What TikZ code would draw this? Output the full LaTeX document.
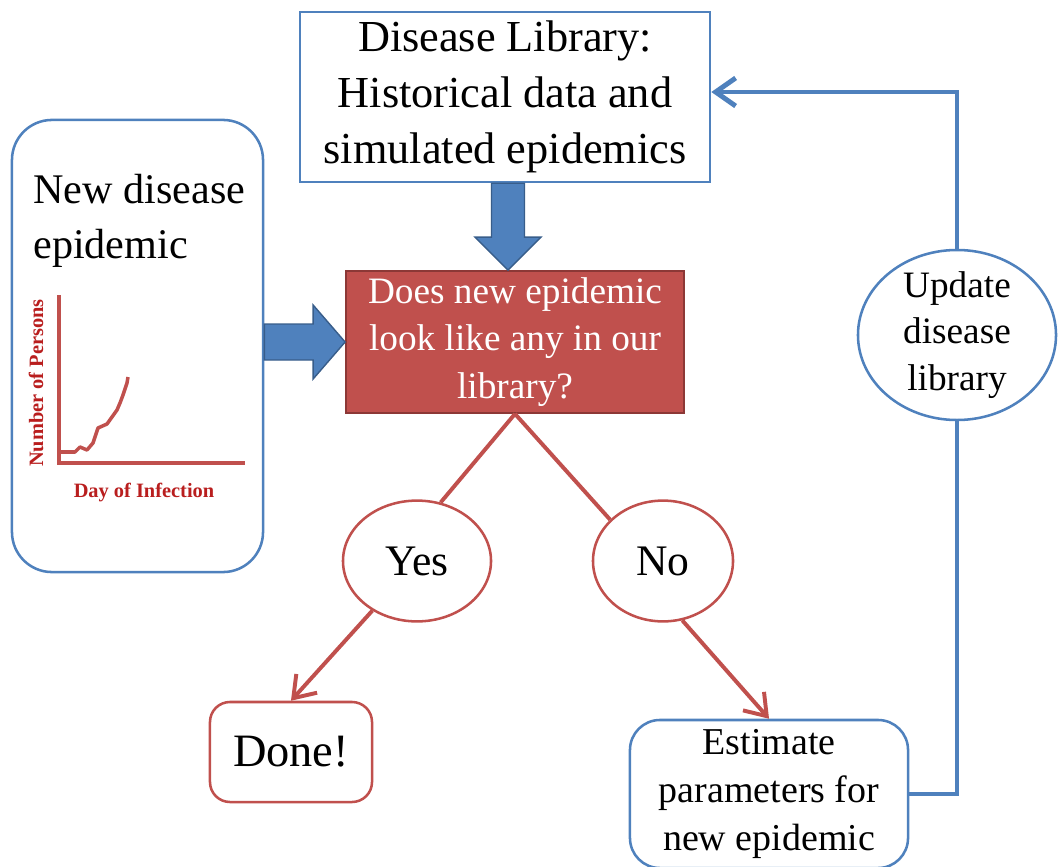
\documentclass[tikz,border=0pt]{standalone}
\usepackage{fontspec}
\setmainfont{Liberation Serif}
\usetikzlibrary{arrows.meta,calc,positioning,shapes.geometric}
\definecolor{boxblue}{RGB}{79,129,189}
\definecolor{darkblue}{RGB}{56,93,138}
\definecolor{boxred}{RGB}{192,80,77}
\definecolor{darkred}{RGB}{140,56,54}
\definecolor{labelred}{RGB}{185,30,30}

\begin{document}
\begin{tikzpicture}[x=0.025cm,y=-0.025cm,
    bluebox/.style={draw=boxblue, line width=1.8pt, fill=white, align=center, inner sep=0pt},
    redbox/.style={draw=boxred, line width=1.8pt, fill=white, align=center, inner sep=0pt},
    answer/.style={ellipse, draw=boxred, line width=1.8pt, fill=white, inner sep=0pt, minimum height=3.02cm, font=\fontsize{31}{38}\selectfont},
    redline/.style={boxred, line width=2.8pt},
    blueline/.style={boxblue, line width=3.5pt},
    tip/.style={-{Straight Barb[length=0.5cm, width=0.7cm]}},
    blockarrow/.style={fill=boxblue, draw=darkblue, line width=1pt, line join=miter}]

  \useasboundingbox (0,0) rectangle (1058,867);

  % Disease library box at the top
  \node[bluebox, minimum width=10.25cm, minimum height=4.25cm, font=\fontsize{31.5}{40}\selectfont] (lib) at (505,97) {Disease Library:\\Historical data and\\simulated epidemics};

  % New disease box with its small plot
  \node[bluebox, rounded corners=1cm, minimum width=6.275cm, minimum height=11.3cm] (newdis) at (137.5,346) {};
  \node[anchor=north west, inner sep=0pt, align=left, font=\fontsize{30}{39}\selectfont] (newtxt) at (33,174) {New disease\\epidemic};
  \draw[boxred, line width=3.5pt] (59,295) -- (59,463) -- (245,463);
  \draw[boxred, line width=2.5pt, line join=round] (59,452) -- (75,452) -- (80,447) -- (87,450) -- (93,443) -- (98,428) -- (107,424) -- (112,417) -- (117,410) -- (120,403) -- (123,395) -- (127,383) -- (128,377);
  \node[rotate=90, text=labelred, font=\bfseries\fontsize{14.5}{16}\selectfont] (ylab) at (36,383) {Number of Persons};
  \node[text=labelred, font=\bfseries\fontsize{14.5}{16}\selectfont] (xlab) at (144,493) {Day of Infection};

  % Question box
  \node[fill=boxred, draw=darkred, line width=1.2pt, minimum width=8.45cm, minimum height=3.55cm, text=white, align=center, inner sep=0pt, font=\fontsize{26.5}{34}\selectfont] (q) at (515,342) {Does new epidemic\\look like any in our\\library?};

  % Yes and No
  \node[answer, minimum width=3.7cm] (yes) at (417,561) {Yes};
  \node[answer, minimum width=3.5cm] (no) at (663,561) {No};

  % Outcomes
  \node[redbox, rounded corners=0.5cm, minimum width=4.05cm, minimum height=2.5cm, font=\fontsize{33}{40}\selectfont] (done) at (291,752) {Done!};
  \node[bluebox, rounded corners=0.75cm, minimum width=6.95cm, minimum height=3.7cm, font=\fontsize{27}{34}\selectfont] (est) at (769,794) {Estimate\\parameters for\\new epidemic};

  % Update ellipse on the right
  \node[ellipse, draw=boxblue, line width=1.8pt, fill=white, minimum width=4.95cm, minimum height=4.25cm, align=center, inner xsep=0pt, inner ysep=-0.35cm, font=\fontsize{26.5}{33}\selectfont] (update) at (957,335) {Update\\disease\\library};

  % Red connectors
  \draw[redline] (q.south) -- (yes.68);
  \draw[redline] (q.south) -- (no.142);
  \draw[redline, tip] (yes.228) -- (done.north);
  \draw[redline, tip] (no.288) -- (est.north);

  % Blue feedback loop
  \draw[blueline] (est.east) -| (update.south);
  \draw[blueline, tip] (update.north) |- ($(lib.east)+(0,-5)$);

  % Block arrows
  \coordinate (ltail) at (newdis.east |- q.west);
  \coordinate (ltip) at (q.west);
  \draw[blockarrow] ($(ltail)+(0,-18)$) -- ($(ltip)+(-32,-18)$) -- ($(ltip)+(-32,-37)$) -- (ltip) -- ($(ltip)+(-32,37)$) -- ($(ltip)+(-32,18)$) -- ($(ltail)+(0,18)$) -- cycle;
  \coordinate (dtail) at ($(lib.south)+(3,0)$);
  \coordinate (dtip) at (dtail |- q.north);
  \draw[blockarrow] ($(dtail)+(-16.5,0)$) -- ($(dtip)+(-16.5,-33)$) -- ($(dtip)+(-33,-33)$) -- (dtip) -- ($(dtip)+(33,-33)$) -- ($(dtip)+(16.5,-33)$) -- ($(dtail)+(16.5,0)$) -- cycle;
\end{tikzpicture}
\end{document}
